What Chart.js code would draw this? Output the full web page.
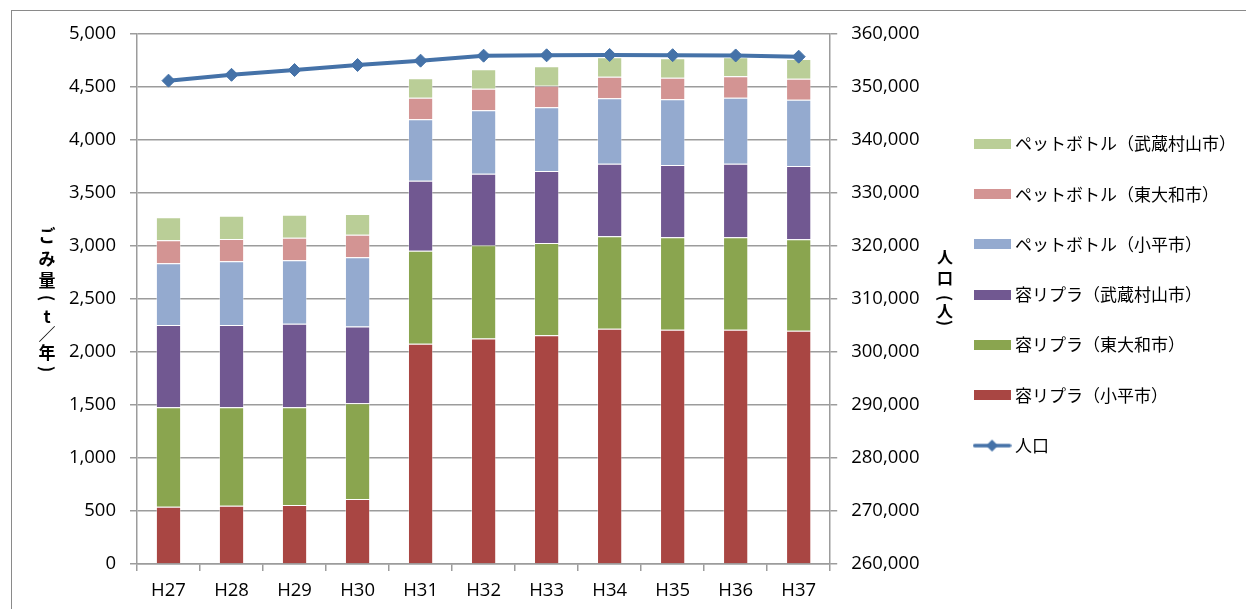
<!DOCTYPE html>
<html>
<head>
<meta charset="utf-8">
<script src="https://cdn.jsdelivr.net/npm/chart.js@4/dist/chart.umd.min.js"></script>
<style>
  html, body { margin: 0; padding: 0; background: #fff; }
  #wrap { width: 1246px; height: 609px; }
</style>
</head>
<body>
<div id="wrap"><canvas id="c" width="1246" height="609"></canvas></div>
<script>
// ---- data ----
const categories = ['H27','H28','H29','H30','H31','H32','H33','H34','H35','H36','H37'];
const yoriPlaKodaira        = [540, 550, 557, 613, 2078, 2127, 2158, 2219, 2210, 2210, 2201];
const yoriPlaHigashiyamato  = [938, 928, 921, 903, 878, 880, 870, 872, 872, 872, 862];
const yoriPlaMusashimurayama= [777, 777, 789, 725, 660, 675, 680, 686, 682, 695, 692];
const petKodaira            = [582, 601, 598, 652, 579, 598, 600, 616, 620, 622, 625];
const petHigashiyamato      = [217, 210, 213, 214, 204, 204, 204, 204, 204, 202, 198];
const petMusashimurayama    = [217, 220, 217, 195, 183, 183, 183, 183, 183, 179, 186];
const population            = [351200, 352300, 353200, 354150, 354970, 355910, 355980, 356040, 356000, 355950, 355720];

const seriesLabels = ['容リプラ（小平市）','容リプラ（東大和市）','容リプラ（武蔵村山市）',
  'ペットボトル（小平市）','ペットボトル（東大和市）','ペットボトル（武蔵村山市）','人口'];
const leftTitle = ['ご','み','量','(','t','／','年',')'];
const rightTitle = ['人','口','(','人',')'];

// ---- styles ----
const barColors = ['#A94643','#8AA54F','#715891','#94AACF','#D39493','#BACE97'];
const lineColor = '#4572A8';
const gridColor = '#9c9c9c';
const tickFont = { family: '"Open Sans", "DejaVu Sans", sans-serif', size: 18.5 };
const jpFont = '"Noto Sans CJK JP", "Noto Sans", sans-serif';

function swatch(color) {
  const c = document.createElement('canvas');
  c.width = 37; c.height = 10;
  const x = c.getContext('2d');
  x.fillStyle = color; x.fillRect(0, 0, 37, 10);
  return c;
}
function lineSwatch() {
  const c = document.createElement('canvas');
  c.width = 39; c.height = 14;
  const x = c.getContext('2d');
  x.strokeStyle = lineColor; x.lineWidth = 3.5; x.lineCap = 'round';
  x.beginPath(); x.moveTo(2, 7); x.lineTo(37, 7); x.stroke();
  x.fillStyle = lineColor;
  x.beginPath(); x.moveTo(19.5, 1); x.lineTo(25.5, 7); x.lineTo(19.5, 13); x.lineTo(13.5, 7); x.closePath(); x.fill();
  return c;
}
const legendImgs = barColors.map(swatch).concat([lineSwatch()]);

const barData = [yoriPlaKodaira, yoriPlaHigashiyamato, yoriPlaMusashimurayama, petKodaira, petHigashiyamato, petMusashimurayama];
const datasets = barData.map((d, i) => ({
  type: 'bar',
  label: seriesLabels[i],
  data: d,
  backgroundColor: barColors[i],
  borderColor: 'rgba(255,255,255,0.35)',
  borderWidth: 1,
  yAxisID: 'y',
  stack: 's',
  order: 1,
  barPercentage: 0.4,
  categoryPercentage: 1.0
}));
datasets.push({
  type: 'line',
  label: seriesLabels[6],
  data: population,
  yAxisID: 'y1',
  borderColor: lineColor,
  backgroundColor: lineColor,
  borderWidth: 4,
  pointStyle: 'rectRot',
  pointRadius: 6.5,
  pointBorderWidth: 1,
  pointBackgroundColor: lineColor,
  pointBorderColor: lineColor,
  tension: 0,
  order: 0
});

const decor = {
  id: 'decor',
  beforeDraw(chart) {
    const ctx = chart.ctx;
    ctx.save();
    ctx.strokeStyle = '#8a8a8a';
    ctx.lineWidth = 1;
    ctx.strokeRect(11.5, 10.5, 1400, 800);
    ctx.restore();
  },
  afterDraw(chart) {
    const ctx = chart.ctx;
    ctx.save();
    ctx.fillStyle = '#000';
    ctx.textAlign = 'center';
    ctx.textBaseline = 'middle';
    const drawVert = (chars, x, ys, size) => {
      ctx.font = 'bold ' + size + 'px ' + jpFont;
      chars.forEach((ch, i) => {
        if (ch === '(' || ch === ')') {
          ctx.save();
          ctx.translate(x, ys[i]);
          ctx.rotate(Math.PI / 2);
          ctx.fillText(ch, 0, 0);
          ctx.restore();
        } else {
          ctx.fillText(ch, x, ys[i]);
        }
      });
    };
    drawVert(leftTitle, 47, [236, 259, 281, 298, 317, 335, 353, 369], 17);
    drawVert(rightTitle, 945, [257, 278, 298, 311, 323], 16);
    ctx.restore();
  }
};

new Chart(document.getElementById('c'), {
  data: { labels: categories, datasets },
  plugins: [decor],
  options: {
    responsive: false,
    animation: false,
    layout: { padding: { top: 34, right: 0, bottom: 0, left: 0 } },
    plugins: {
      tooltip: { enabled: false },
      legend: {
        position: 'right',
        align: 'start',
        maxWidth: 500,
        title: { display: true, text: ' ', font: { size: 10 }, padding: { top: 28, bottom: 28 } },
        labels: {
          usePointStyle: true,
          pointStyleWidth: 29,
          padding: 33.3,
          color: '#000',
          font: { family: jpFont, size: 17 },
          generateLabels(chart) {
            const order = [5, 4, 3, 2, 1, 0, 6];
            return order.map(i => ({
              text: chart.data.datasets[i].label,
              pointStyle: legendImgs[i],
              datasetIndex: i,
              hidden: !chart.isDatasetVisible(i),
              fillStyle: i < 6 ? barColors[i] : lineColor,
              strokeStyle: i < 6 ? barColors[i] : lineColor,
              lineWidth: 0,
              fontColor: '#000'
            }));
          }
        }
      }
    },
    scales: {
      x: {
        stacked: true,
        offset: true,
        grid: { drawOnChartArea: false, offset: true, color: gridColor, tickLength: 7, lineWidth: 1.5 },
        border: { color: gridColor, width: 1.5 },
        ticks: { color: '#000', font: tickFont, padding: 9, maxRotation: 0 },
        afterFit(s) { s.height = 45; }
      },
      y: {
        position: 'left',
        stacked: true,
        min: 0, max: 5000,
        ticks: { stepSize: 500, color: '#000', font: tickFont, padding: 14,
          callback: v => v.toLocaleString('en-US') },
        grid: { color: gridColor, tickLength: 7, lineWidth: 1.5 },
        border: { color: gridColor, width: 1.5 },
        afterFit(s) { s.width = 137; }
      },
      y1: {
        position: 'right',
        min: 260000, max: 360000,
        ticks: { stepSize: 10000, color: '#000', font: tickFont, padding: 14,
          callback: v => v.toLocaleString('en-US') },
        grid: { drawOnChartArea: false, color: gridColor, tickLength: 7, lineWidth: 1.5 },
        border: { color: gridColor, width: 1.5 },
        afterFit(s) { s.width = 114; }
      }
    }
  }
});
</script>
</body>
</html>
